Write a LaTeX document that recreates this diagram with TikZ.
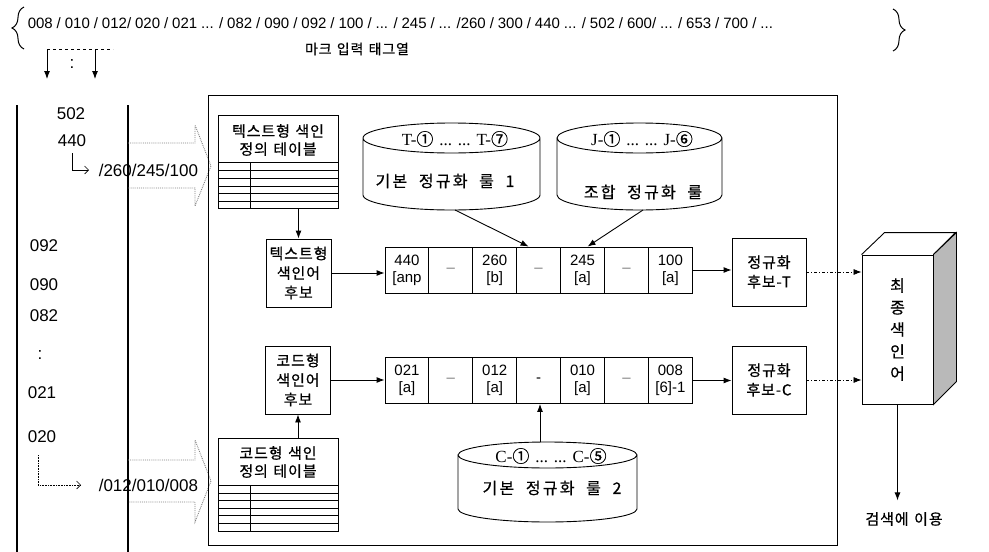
\documentclass[tikz,border=0pt]{standalone}
\usepackage{fontspec}
\setmainfont{Liberation Sans}
\newfontfamily\kr{Noto Sans CJK KR}[LetterSpace=6,WordSpace=1.3,FakeBold=0.6]
\newfontfamily\krr{Noto Sans CJK KR}[LetterSpace=14,WordSpace=2,FakeBold=0.6]
\newfontfamily\tagfont{Liberation Sans}[WordSpace=0.95]
\newfontfamily\ser{Liberation Serif}
\usetikzlibrary{positioning, calc, arrows.meta, decorations.pathreplacing}

\begin{document}
\begin{tikzpicture}[x=1pt, y=-1pt, line width=0.9pt, >={Latex[length=8pt,width=6pt]},
        box/.style={draw, minimum width=65, minimum height=68, inner sep=1pt, align=center, font=\kr\fontsize{15}{19.5}\selectfont},
        tab/.style={draw, minimum width=120, minimum height=93, inner sep=0},
        cell/.style={draw, minimum width=43.9, minimum height=46, inner sep=0, align=center, font=\fontsize{15}{17}\selectfont},
        lab/.style={font=\fontsize{17}{19}\selectfont},
        krlab/.style={font=\kr\fontsize{15}{18}\selectfont, align=center},
        rulelab/.style={font=\krr\fontsize{16}{18}\selectfont},
        ruletop/.style={font=\ser\fontsize{17}{17}\selectfont},
        hollow/.style={densely dotted, gray},
        barb/.style={-{Straight Barb[length=4pt,width=8pt]}}]
    \useasboundingbox (0,0) rectangle (989,552);
    % tag string on top
    \node[anchor=west, font=\tagfont\fontsize{15}{17}\selectfont] (tags) at (24,23) {008 / 010 / 012/ 020 / 021 ... / 082 / 090 / 092 / 100 / ... / 245 / ... /260 / 300 / 440 ... / 502 / 600/ ... / 653 / 700 / ...};
    \draw[decorate, decoration={brace, amplitude=12pt}, line width=1pt] (24,49) -- (24,7);
    \draw[decorate, decoration={brace, amplitude=12pt}, line width=1pt] (893,9) -- (893,51);
    \node[krlab, font=\kr\fontsize{14}{16}\selectfont] (title) at (357,49) {마크 입력 태그열};
    \coordinate (s1) at (47,49);
    \coordinate (s2) at (95,49);
    \draw[dashed, line width=0.7pt] (s1) -- (113,49);
    \draw[->] (s1) -- ++(0,30);
    \draw[->] (s2) -- ++(0,30);
    \node[lab] (dots1) at (72,64) {:};

    % left column
    \draw[line width=1.2pt] (17,105) -- (17,552);
    \draw[line width=1.2pt] (128,105) -- (128,552);
    \draw[hollow] (128,143) -- (195,143) -- (195,125) -- (211,166) -- (195,206) -- (195,188) -- (128,188);
    \draw[hollow] (128,460) -- (195,460) -- (195,440) -- (211,481) -- (195,522) -- (195,502) -- (128,502);
    \node[lab] (l502) at (71,114) {502};
    \node[lab] (l440) at (72,141) {440};
    \node[lab, anchor=west] (ltext) at (95,170) {/260/245/100};
    \node[lab] (l092) at (44,246) {092};
    \node[lab] (l090) at (44,285) {090};
    \node[lab] (l082) at (44,316) {082};
    \node[lab] (dots2) at (40,355) {:};
    \node[lab] (l021) at (42,393) {021};
    \node[lab] (l020) at (42,437) {020};
    \node[lab, anchor=west] (lcode) at (95,485) {/012/010/008};
    \draw[barb, line width=0.6pt] (72,153) |- ([xshift=-6pt]ltext.west);
    \draw[barb, densely dotted, line width=0.6pt] (38,455) |- ([xshift=-14pt]lcode.west);

    % main frame
    \node[draw, minimum width=629, minimum height=450] (frame) at (522.5,320) {};

    % index definition tables
    \node[tab, fill=white] (ttab) at (278,161.5) {};
    \node[krlab] (ttabtxt) at (278,140) {텍스트형 색인\\정의 테이블};
    \foreach \y in {162,170,178,186,193,201}
        \draw (218,\y) -- (338,\y);
    \draw (250,162) -- (250,208);
    \node[tab, fill=white] (ctab) at (278,484.5) {};
    \node[krlab] (ctabtxt) at (278,462) {코드형 색인\\정의 테이블};
    \foreach \y in {485,493,500,508,515,523}
        \draw (218,\y) -- (338,\y);
    \draw (250,485) -- (250,531);

    % candidates
    \node[box] (tcand) at (298.5,273) {텍스트형\\색인어\\후보};
    \node[box] (ccand) at (298,380) {코드형\\색인어\\후보};
    \draw[->] (ttab.south -| tcand) -- (tcand.north);
    \draw[->] (ctab.north -| ccand) -- (ccand.south);

    % chains
    \foreach \i/\txt in {1/{440\\{[anp}},2/{\color{gray}--},3/{260\\{[b]}},4/{\color{gray}--},5/{245\\{[a]}},6/{\color{gray}--},7/{100\\{[a]}}}
        \node[cell] (t\i) at ({385+43.9*(\i-0.5)},270) {\txt};
    \foreach \i/\txt in {1/{021\\{[a]}},2/{\color{gray}--},3/{012\\{[a]}},4/{-},5/{010\\{[a]}},6/{\color{gray}--},7/{008\\{[6]-1}}}
        \node[cell] (c\i) at ({385+43.9*(\i-0.5)},380.5) {\txt};
    \draw[->] (tcand.east) -- (tcand.east -| t1.west);
    \draw[->] (ccand.east) -- (ccand.east -| c1.west);

    % rule bases
    \foreach \cx/\rx/\ya/\yb/\ry in {451.5/88.5/138/195/15, 639.5/82.5/138/195/15, 547.5/89.5/455/509/13}
        \draw (\cx-\rx,\ya) -- (\cx-\rx,\yb) arc[start angle=180, end angle=0, x radius=\rx, y radius=\ry] -- (\cx+\rx,\ya)
              (\cx,\ya) ellipse [x radius=\rx, y radius=\ry];
    \node[ruletop] (r1top) at (455,139) {T-{\kr ①}\hspace{6pt}... ...\hspace{6pt}T-{\kr ⑦}};
    \node[rulelab] (r1) at (445,181) {기본 정규화 룰 1};
    \node[ruletop] (r2top) at (642,139) {J-{\kr ①}\hspace{6pt}... ...\hspace{6pt}J-{\kr ⑥}};
    \node[rulelab] (r2) at (643,192) {조합 정규화 룰};
    \node[ruletop] (r3top) at (551,456) {C-{\kr ①}\hspace{6pt}... ...\hspace{6pt}C-{\kr ⑤}};
    \node[rulelab] (r3) at (552,488) {기본 정규화 룰 2};
    \coordinate (r1b) at (455,210);
    \coordinate (r2b) at (643,210);
    \coordinate (r3t) at (540,442);
    \draw[->] (r1b) -- ($(t4.north)+(-10,0)$);
    \draw[->] (r2b) -- ($(t5.north)+(5,0)$);
    \draw[->] (r3t) -- (r3t |- c4.south);

    % normalised candidates
    \node[box, minimum width=74] (ntT) at (769,272) {정규화\\후보-T};
    \node[box, minimum width=74] (ntC) at (769,380) {정규화\\후보-C};
    \draw[->] (t7.east) -- (t7.east -| ntT.west);
    \draw[->] (c7.east) -- (c7.east -| ntC.west);

    % final index terms
    \node[draw, fill=white, minimum width=71, minimum height=149, align=center, font=\kr\fontsize{16}{22}\selectfont] (fin) at (897.5,329.5) {최\\종\\색\\인\\어};
    \draw (fin.north west) -- ++(23,-22) -- ++(71,0) -- (fin.north east);
    \filldraw[fill=gray!55] (fin.north east) -- ++(23,-22) -- ++(0,149) -- (fin.south east) -- cycle;
    \draw[->, dash dot, line width=0.7pt] (ntT.east) -- (ntT.east -| fin.west);
    \draw[->, dash dot, line width=0.7pt] (ntC.east) -- (ntC.east -| fin.west);
    \node[krlab] (use) at (904,519) {검색에 이용};
    \draw[->] (fin.south) -- ([yshift=8pt]fin.south |- use.north);
\end{tikzpicture}
\end{document}
